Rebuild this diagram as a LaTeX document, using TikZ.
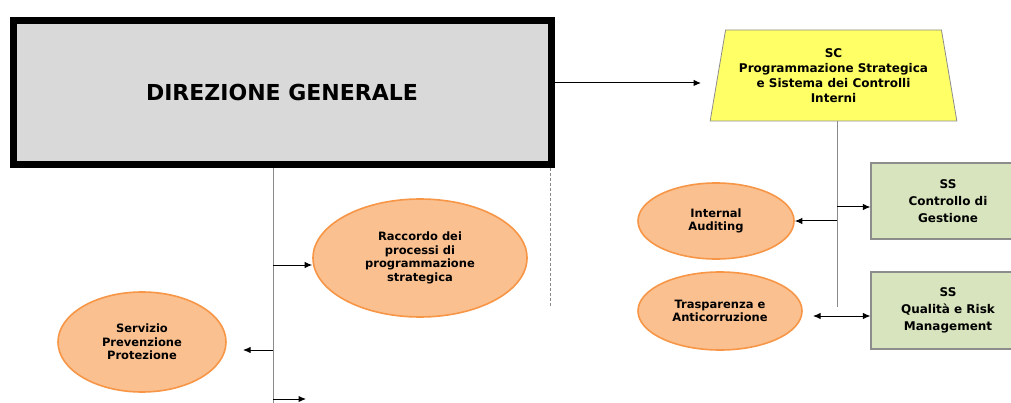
\documentclass[tikz,border=0pt]{standalone}
\usepackage{fontspec}
\setmainfont{DejaVu Sans}
\usetikzlibrary{shapes.geometric,arrows.meta}
\definecolor{dgfill}{HTML}{D9D9D9}
\definecolor{scfill}{HTML}{FFFF66}
\definecolor{ovfill}{HTML}{FAC090}
\definecolor{ovdraw}{HTML}{F79646}
\definecolor{ssfill}{HTML}{D7E4BD}
\definecolor{ssdraw}{HTML}{8C8C8C}
\definecolor{vline}{HTML}{8A8A8A}
\tikzset{
  dgbox/.style={draw=black, line width=7pt, fill=dgfill, rectangle, inner sep=0pt,
    font=\fontsize{22}{26}\selectfont\bfseries},
  scbox/.style={draw=ssdraw, line width=0.8pt, fill=scfill, trapezium,
    trapezium left angle=76, trapezium right angle=76, trapezium stretches=true,
    inner sep=0pt, align=center, font=\fontsize{12}{15}\selectfont\bfseries},
  oval/.style={draw=ovdraw, line width=1.6pt, fill=ovfill, ellipse, inner sep=0pt,
    align=center, font=\fontsize{11.5}{13.6}\selectfont\bfseries},
  ssbox/.style={draw=ssdraw, line width=1.2pt, fill=ssfill, rectangle, inner sep=0pt,
    align=center, font=\fontsize{12}{16.8}\selectfont\bfseries},
  conn/.style={draw=vline, line width=0.8pt},
  arr/.style={draw=black, line width=1pt, -{Latex[length=7.5pt,width=6.5pt]}},
  darr/.style={draw=black, line width=1pt, {Latex[length=7.5pt,width=6.5pt]}-{Latex[length=7.5pt,width=6.5pt]}},
}
\begin{document}
\begin{tikzpicture}[x=1pt,y=-1pt]
\useasboundingbox (0,0) rectangle (1011,403);
\fill[white] (0,0) rectangle (1011,403);

% nodes
\node[dgbox, minimum width=538pt, minimum height=144pt] (dg) at (282,92.5) {DIREZIONE GENERALE};
\node[scbox, minimum width=247pt, minimum height=91pt] (sc) at (833.5,75.5)
  {SC\\Programmazione Strategica\\e Sistema dei Controlli\\Interni};
\node[oval, minimum width=156pt, minimum height=76pt] (ia) at (716,221) {Internal\\Auditing};
\node[oval, minimum width=164pt, minimum height=78pt] (tr) at (720,311) {Trasparenza e\\Anticorruzione};
\node[oval, minimum width=214pt, minimum height=118pt] (rac) at (420,258)
  {Raccordo dei\\processi di\\programmazione\\strategica};
\node[oval, minimum width=168pt, minimum height=100pt] (spp) at (142,342)
  {Servizio\\Prevenzione\\Protezione};
\node[ssbox, minimum width=154pt, minimum height=76pt] (cg) at (948,201)
  {SS\\Controllo di\\Gestione};
\node[ssbox, minimum width=154pt, minimum height=77pt] (qr) at (948,310.5)
  {SS\\Qualità e Risk\\Management};

% coordinates
\coordinate (dgA) at (273,168);
\coordinate (dgEnd) at (273,403);
\coordinate (dashTop) at (550,168);
\coordinate (dashBot) at (550,306);
\coordinate (dgOut) at (555,83);
\coordinate (scIn) at (701,83);
\coordinate (scA) at (837,121);
\coordinate (scEnd) at (837,307);
\coordinate (b1) at (273,265);
\coordinate (b2) at (273,350);
\coordinate (b2e) at (243,350);
\coordinate (b3) at (273,399);
\coordinate (b3e) at (306,399);
\coordinate (b4) at (837,207);
\coordinate (b5) at (837,221);
\coordinate (b6) at (813,316);

% connectors
\draw[conn] (dgA) -- (dgEnd);
\draw[conn, dash pattern=on 3pt off 2pt] (dashTop) -- (dashBot);
\draw[conn] (scA) -- (scEnd);
\draw[arr] (dgOut) -- (scIn);
\draw[arr] (b1) -- (rac.west |- b1);
\draw[arr] (b2) -- (b2e);
\draw[arr] (b3) -- (b3e);
\draw[arr] (b4) -- (cg.west |- b4);
\draw[arr] (b5) -- (ia.east |- b5);
\draw[darr] (b6) -- (qr.west |- b6);
\end{tikzpicture}
\end{document}
